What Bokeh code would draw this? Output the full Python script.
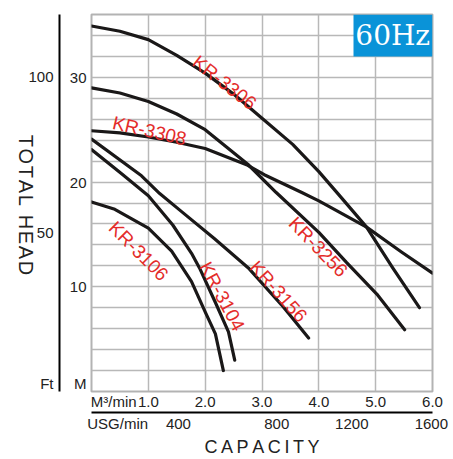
import math
from bokeh.plotting import figure
from bokeh.models import Range1d, LinearAxis, FixedTicker, BoxAnnotation, Label, ColumnDataSource
from bokeh.core.properties import value
from bokeh.embed import file_html
from bokeh.resources import INLINE

# ---- data (capacity in m3/min, head in m) ----
Q_3306 = [0, 0.5, 1.0, 1.5, 2.0, 2.5, 3.0, 3.54, 4.0, 4.35, 4.84, 5.3, 5.77]
H_3306 = [34.9, 34.4, 33.6, 32.1, 30.4, 28.4, 26.1, 23.6, 21.0, 18.8, 15.7, 11.8, 8.0]

Q_3256 = [0, 0.5, 1.0, 1.5, 2.0, 2.75, 3.25, 4.0, 4.49, 5.02, 5.51]
H_3256 = [29.0, 28.5, 27.7, 26.5, 25.0, 21.7, 19.0, 15.2, 12.3, 9.3, 5.9]

Q_3308 = [0, 0.5, 1.0, 1.5, 2.0, 2.75, 3.04, 3.7, 4.0, 4.84, 5.46, 6.0]
H_3308 = [24.9, 24.7, 24.3, 23.8, 23.2, 21.6, 20.7, 19.0, 18.2, 15.7, 13.3, 11.3]

Q_3156 = [0, 0.88, 1.2, 1.58, 2.16, 2.76, 3.04, 3.34, 3.82]
H_3156 = [24.1, 20.6, 18.9, 17.2, 14.6, 11.8, 10.1, 8.3, 5.1]

Q_3104 = [0, 0.53, 1.0, 1.43, 1.76, 1.9, 2.18, 2.41, 2.52]
H_3104 = [23.1, 20.8, 18.7, 15.9, 13.2, 11.8, 8.5, 5.7, 3.0]

Q_3106 = [0, 0.41, 1.0, 1.41, 1.76, 2.0, 2.18, 2.32]
H_3106 = [18.1, 17.4, 15.6, 13.4, 10.5, 7.6, 5.5, 2.0]

LABELS = ["KR-3306", "KR-3308", "KR-3256", "KR-3156", "KR-3104", "KR-3106"]
LABEL_Q = [2.34, 1.02, 3.99, 3.29, 2.30, 0.83]
LABEL_H = [29.5, 24.9, 13.8, 9.55, 9.08, 13.4]
LABEL_ANGLE = [-38, -13, -46, -48, -62, -45]

M_TICKS = [0.75, 10, 20, 30]
M_LABELS = ["M", "10", "20", "30"]
FT_TICKS = [0.75, 15.15, 30.1]
FT_LABELS = ["Ft", "50", "100"]
M3_TICKS = [0.39, 1, 2, 3, 4, 5, 6]
M3_LABELS = ["M³/min", "1.0", "2.0", "3.0", "4.0", "5.0", "6.0"]
USG_TICKS = [0.46, 1.53, 3.26, 4.58, 5.98]
USG_LABELS = ["USG/min", "400", "800", "1200", "1600"]
TITLE_Y = "TOTAL HEAD"
TITLE_Y_END = 11.1   # head value (m) where the vertical title ends
TITLE_X = "CAPACITY"

FONT = "Liberation Sans"
TXT = "#222222"
CURVE = "#1a1818"
RED = "#e42c2a"

p = figure(width=453, height=459, x_range=Range1d(0, 6), y_range=Range1d(0, 36),
           output_backend="svg", toolbar_location=None,
           min_border_left=90, min_border_right=21, min_border_top=14, min_border_bottom=67)
p.background_fill_color = "white"
p.border_fill_color = "white"
p.outline_line_color = "#b3b3b3"
p.outline_line_width = 2

p.xgrid.ticker = FixedTicker(ticks=[1, 2, 3, 4, 5])
p.ygrid.ticker = FixedTicker(ticks=list(range(2, 36, 2)))
for g in (p.xgrid[0], p.ygrid[0]):
    g.grid_line_color = "#b8b8b8"
    g.grid_line_width = 1.5

def style_axis(ax, size="15px"):
    ax.major_tick_line_color = None
    ax.minor_tick_line_color = None
    ax.major_tick_out = 0
    ax.major_tick_in = 0
    ax.major_label_text_font = FONT
    ax.major_label_text_font_size = size
    ax.major_label_text_color = TXT
    ax.axis_label_text_font = FONT
    ax.axis_label_text_font_style = "normal"
    ax.axis_label_text_color = TXT

# meter axis (inner left)
ya = p.yaxis[0]
ya.ticker = FixedTicker(ticks=M_TICKS)
ya.major_label_overrides = {float(t): l for t, l in zip(M_TICKS, M_LABELS)}
style_axis(ya)
ya.axis_line_color = None
ya.major_label_standoff = 5
ya.axis_label = "\u2007"
ya.axis_label_text_font_size = "1px"
ya.axis_label_standoff = 3

# feet axis (middle left)
ft = LinearAxis(ticker=FixedTicker(ticks=FT_TICKS),
                major_label_overrides={float(t): l for t, l in zip(FT_TICKS, FT_LABELS)})
style_axis(ft)
ft.axis_line_color = "black"
ft.axis_line_width = 2
ft.major_label_standoff = 6
p.add_layout(ft, "left")

# title axis (outer left): one rotated label reading top to bottom
ta = LinearAxis(ticker=FixedTicker(ticks=[TITLE_Y_END]),
                major_label_overrides={TITLE_Y_END: "\u200a".join(TITLE_Y)})
style_axis(ta, size="20px")
ta.axis_line_color = None
ta.major_label_orientation = -math.pi / 2
ta.major_label_standoff = 0
p.add_layout(ta, "left")

# m3/min axis
xa = p.xaxis[0]
xa.ticker = FixedTicker(ticks=M3_TICKS)
xa.major_label_overrides = {float(t): l for t, l in zip(M3_TICKS, M3_LABELS)}
style_axis(xa)
xa.axis_line_color = None
xa.major_label_standoff = 1

# USG axis
ua = LinearAxis(ticker=FixedTicker(ticks=USG_TICKS),
                major_label_overrides={float(t): l for t, l in zip(USG_TICKS, USG_LABELS)})
style_axis(ua)
ua.axis_line_color = "black"
ua.axis_line_width = 2
ua.major_label_standoff = 2
ua.axis_label = "\u2009".join(TITLE_X)
ua.axis_label_text_font_size = "18px"
ua.axis_label_standoff = 2
p.add_layout(ua, "below")

# curves
for q, h in [(Q_3306, H_3306), (Q_3256, H_3256), (Q_3308, H_3308),
             (Q_3156, H_3156), (Q_3104, H_3104), (Q_3106, H_3106)]:
    p.line(q, h, line_color=CURVE, line_width=3.2, line_cap="round", line_join="round")

src = ColumnDataSource(dict(x=LABEL_Q, y=LABEL_H, t=LABELS, a=LABEL_ANGLE))
p.text(x="x", y="y", text="t", angle="a", angle_units="deg", source=src,
       text_color=RED, text_font=value(FONT), text_font_size=value("19px"),
       text_align="center", text_baseline="middle")

# 60Hz badge
p.add_layout(BoxAnnotation(left=4.61, right=6, bottom=32, top=36,
                           fill_color="#0a93d8", fill_alpha=1, line_color=None))
p.add_layout(Label(x=5.3, y=34.0, text="60Hz", text_color="white",
                   text_font="DejaVu Serif", text_font_size="28px",
                   text_align="center", text_baseline="middle"))

open("out.html", "w").write(file_html(p, INLINE))
